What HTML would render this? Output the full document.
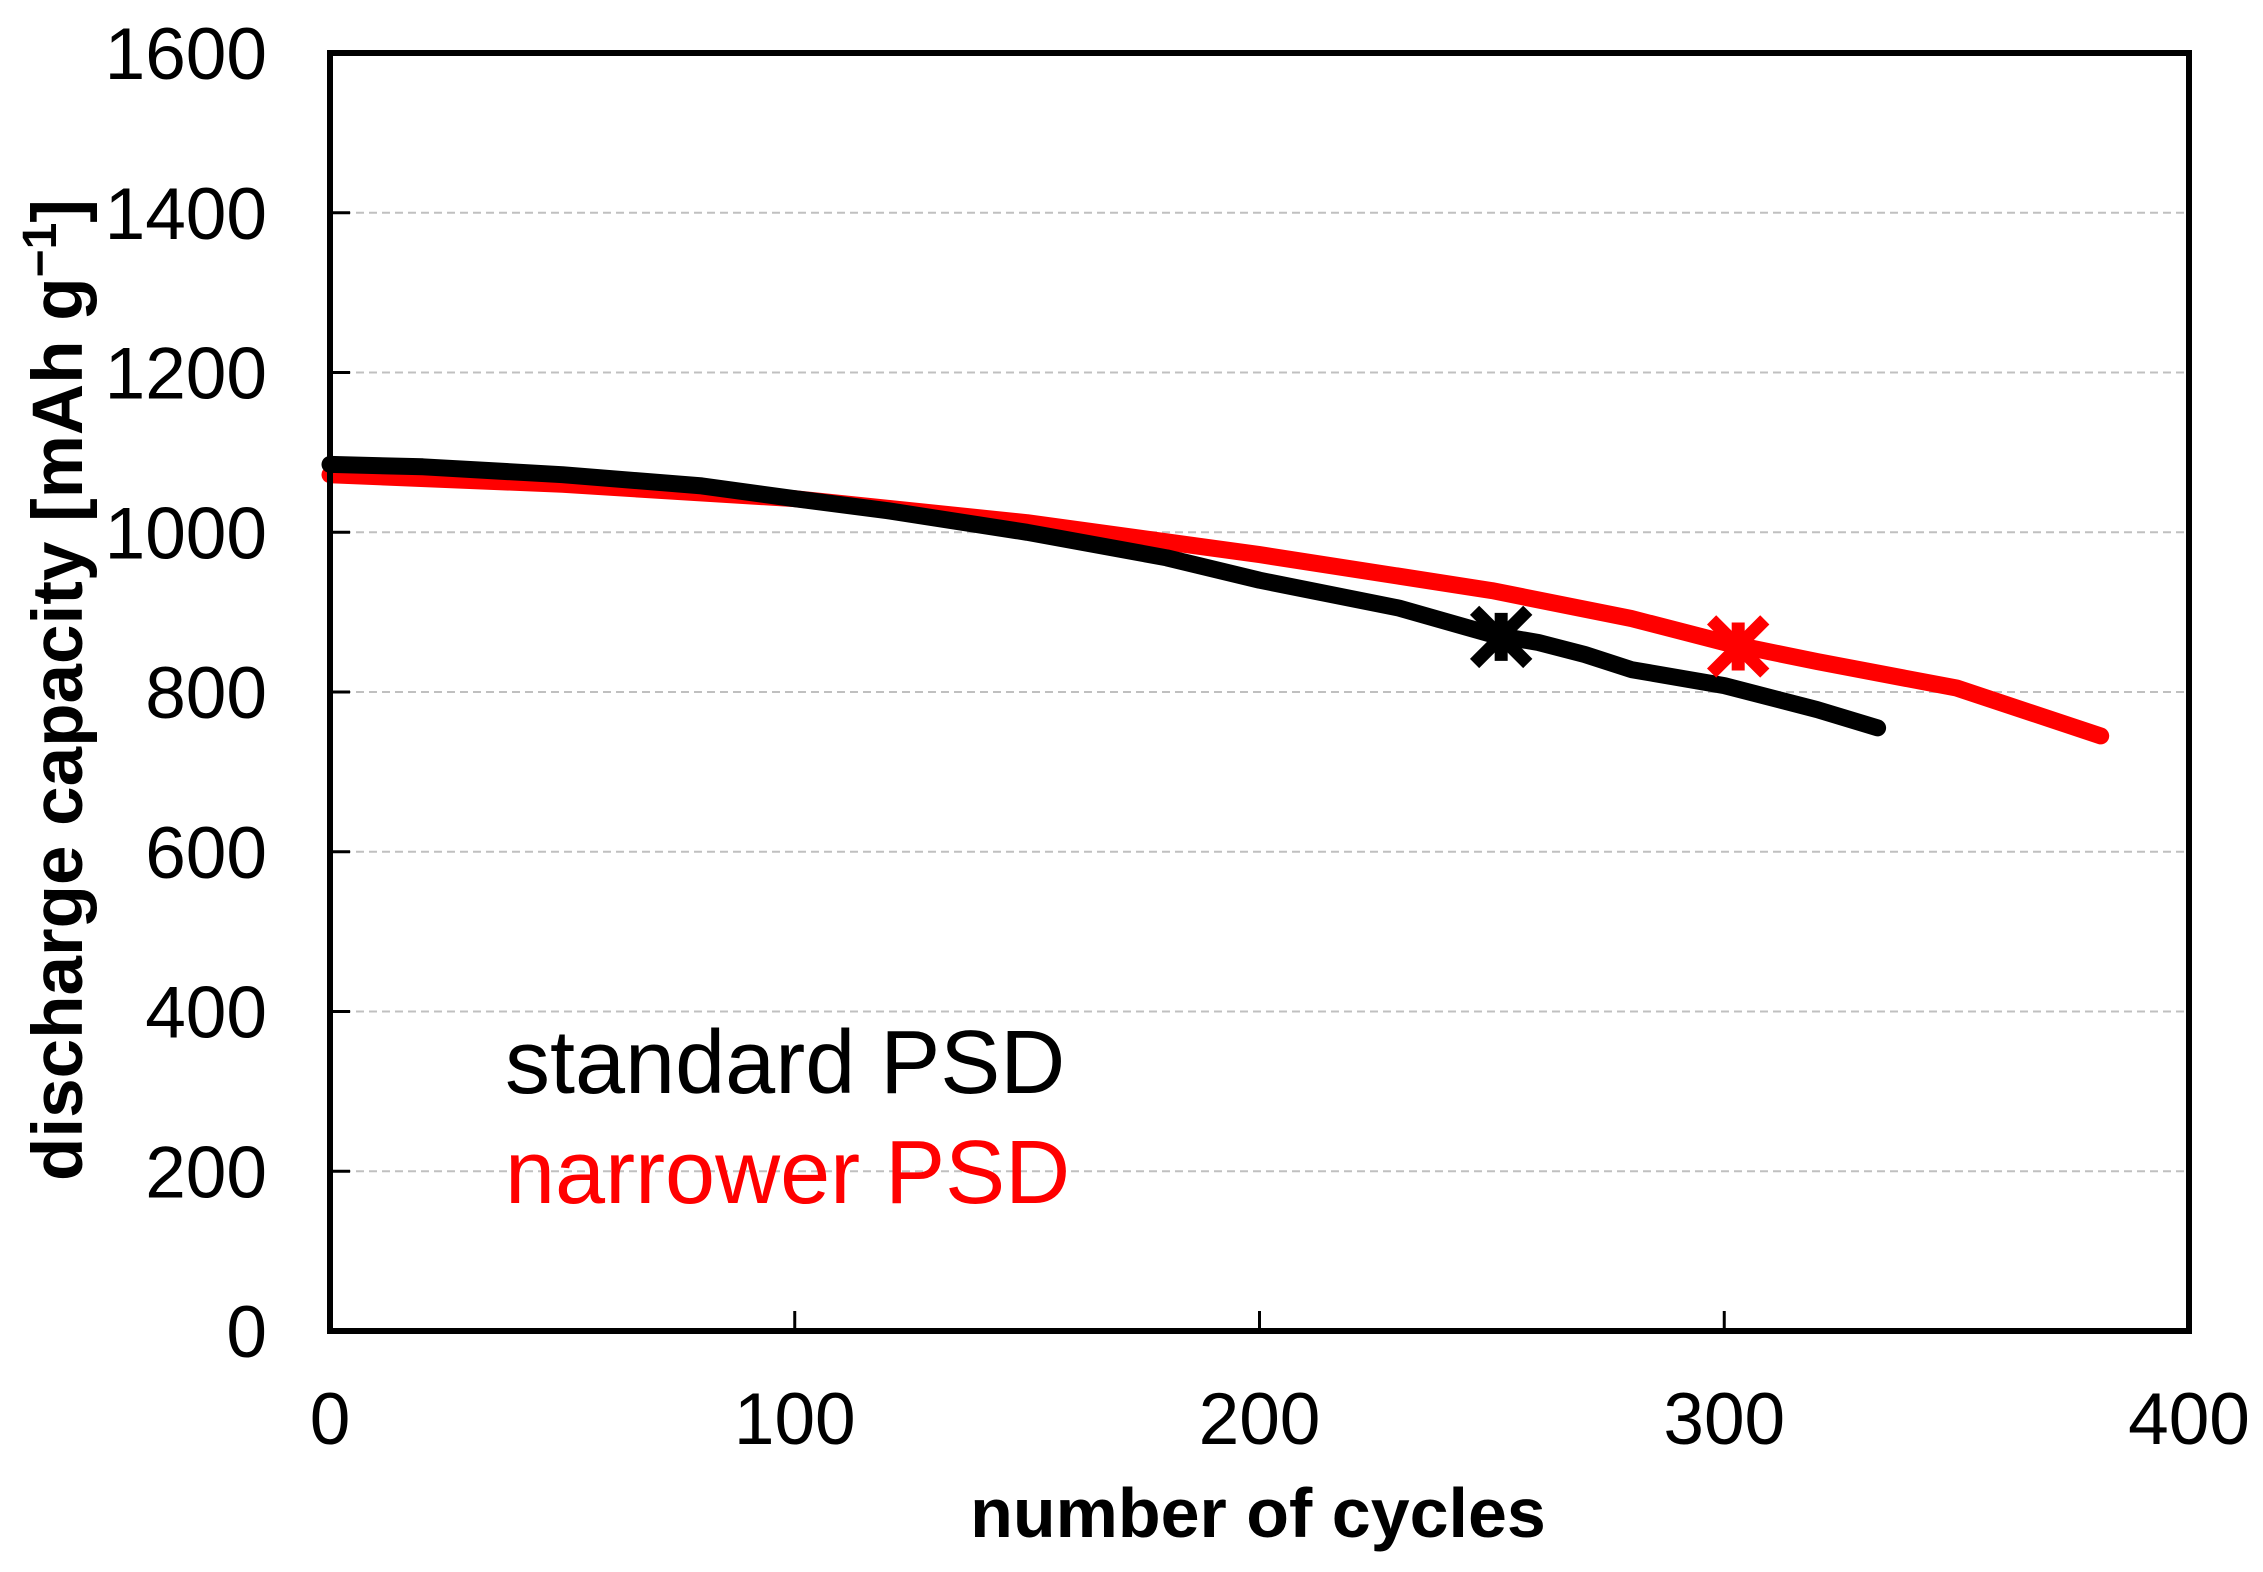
<!DOCTYPE html>
<html><head><meta charset="utf-8"><style>
html,body{margin:0;padding:0;background:#fff;}
svg{display:block;font-family:"Liberation Sans",Arial,sans-serif;}
</style></head><body>
<svg id="chart" width="2263" height="1572" viewBox="0 0 2263 1572">
<g id="grid"></g>
<g id="series"></g>
<g id="axes"></g>
<text x="82" y="690" transform="rotate(-90 82 690)" text-anchor="middle" font-weight="bold" font-size="71">discharge capacity  [mAh g<tspan dy="-26" font-size="48">−1</tspan><tspan dy="26">]</tspan></text>
<text x="1258" y="1537" text-anchor="middle" font-weight="bold" font-size="70">number of cycles</text>
<text x="505" y="1093" font-size="90" fill="#000">standard PSD</text>
<text x="505" y="1203" font-size="90" fill="#ff0000">narrower PSD</text>
</svg>
<script>
const xTicks=[0,100,200,300,400];
const yTicks=[0,200,400,600,800,1000,1200,1400,1600];
const blackX=[0,20,50,80,100,120,150,180,200,230,250,260,270,280,300,320,333];
const blackY=[1085,1082,1072,1058,1042,1027,1000,968,940,905,872,862,847,828,808,778,755];
const redX=[0,50,100,150,200,250,280,300,320,350,381];
const redY=[1072,1060,1042,1012,972,927,892,862,838,805,745];
const starX=[252,303];
const starY=[869,857];
const L=330,R=2189,T=53,B=1331;
const sx=v=>L+(v-0)/(400-0)*(R-L);
const sy=v=>B-(v-0)/(1600-0)*(B-T);
const NS="http://www.w3.org/2000/svg";
function mk(tag,attrs,parent){const e=document.createElementNS(NS,tag);for(const k in attrs)e.setAttribute(k,attrs[k]);parent.appendChild(e);return e;}
const grid=document.getElementById('grid'),axes=document.getElementById('axes'),ser=document.getElementById('series');
yTicks.forEach(v=>{
  if(v>0&&v<1600){const g=mk('line',{x1:L,x2:R,y1:sy(v),y2:sy(v),stroke:'#c0c0c0','stroke-width':2,'stroke-dasharray':'8,5'},grid);
  
  }
  const t=mk('line',{x1:L,x2:L+20,y1:sy(v),y2:sy(v),stroke:'#000','stroke-width':3},axes);
  
  
  const lb=mk('text',{x:267,y:sy(v)+26,'text-anchor':'end','font-size':73},axes);
  lb.textContent=v;
  
  
});
xTicks.forEach(v=>{
  const t=mk('line',{x1:sx(v),x2:sx(v),y1:B,y2:B-20,stroke:'#000','stroke-width':3},axes);
  
  
  const lb=mk('text',{x:sx(v),y:1444,'text-anchor':'middle','font-size':73},axes);
  lb.textContent=v;
  
  
});
const frame=mk('rect',{x:L,y:T,width:R-L,height:B-T,fill:'none',stroke:'#000','stroke-width':6},axes);


function line(xs,ys,col,name){
  const d=xs.map((x,i)=>(i?'L':'M')+sx(x).toFixed(1)+','+sy(ys[i]).toFixed(1)).join(' ');
  const p=mk('path',{d:d,fill:'none',stroke:col,'stroke-width':17,'stroke-linejoin':'round','stroke-linecap':'round'},ser);
  
  
}
line(redX,redY,'#ff0000','series-narrower-psd');
line(blackX,blackY,'#000','series-standard-psd');
const starCols=['#000','#ff0000'];
starX.forEach((x,i)=>{
  const cx=sx(x),cy=sy(starY[i]);
  const g=mk('g',{stroke:starCols[i],'stroke-width':13},ser);
  
  
  mk('line',{x1:cx,y1:cy-24,x2:cx,y2:cy+24},g);
  mk('line',{x1:cx-22,y1:cy-22,x2:cx+22,y2:cy+22,'stroke-linecap':'square'},g);
  mk('line',{x1:cx-22,y1:cy+22,x2:cx+22,y2:cy-22,'stroke-linecap':'square'},g);
});
</script>
</body></html>
